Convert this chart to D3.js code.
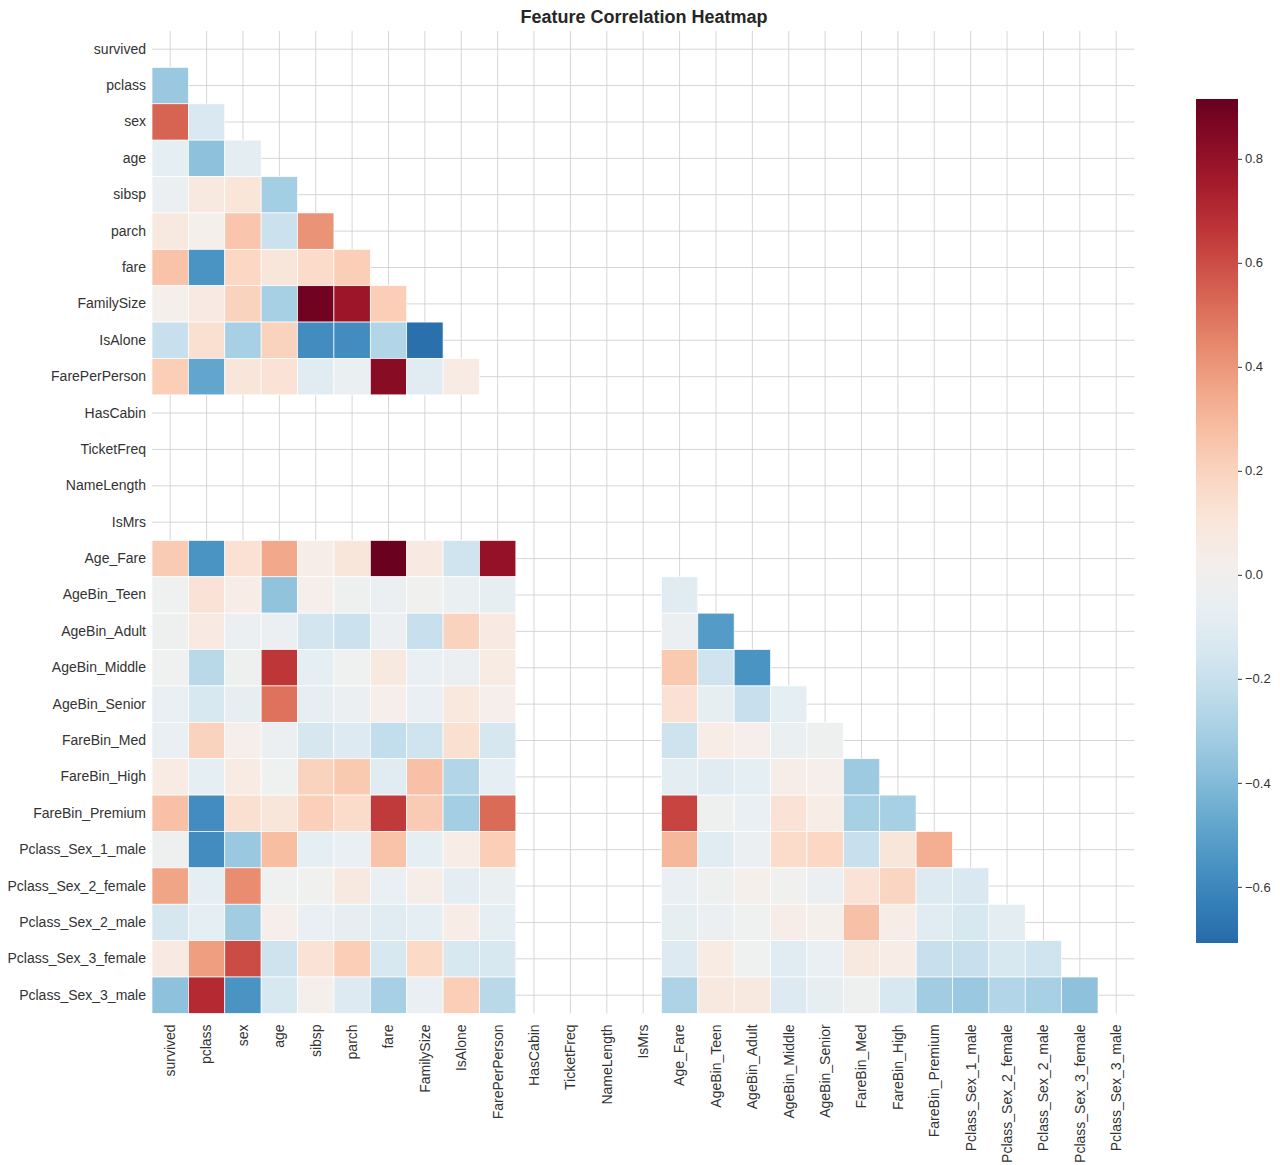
<!DOCTYPE html><html><head><meta charset="utf-8"><script src="https://cdn.jsdelivr.net/npm/d3@7"></script>
<style>body{margin:0;background:#fff}text{font-family:"Liberation Sans",Arial,sans-serif}</style></head><body>
<svg id="c" width="1280" height="1165"></svg>
<script>
const labels=["survived","pclass","sex","age","sibsp","parch","fare","FamilySize","IsAlone","FarePerPerson","HasCabin","TicketFreq","NameLength","IsMrs","Age_Fare","AgeBin_Teen","AgeBin_Adult","AgeBin_Middle","AgeBin_Senior","FareBin_Med","FareBin_High","FareBin_Premium","Pclass_Sex_1_male","Pclass_Sex_2_female","Pclass_Sex_2_male","Pclass_Sex_3_female","Pclass_Sex_3_male"];
const N=null;
const rows=[
[],
[-0.34],
[0.54,-0.13],
[-0.08,-0.37,-0.09],
[-0.04,0.08,0.11,-0.31],
[0.08,0.02,0.25,-0.19,0.41],
[0.26,-0.55,0.18,0.10,0.16,0.22],
[0.02,0.07,0.20,-0.30,0.89,0.78,0.22],
[-0.20,0.14,-0.30,0.20,-0.58,-0.58,-0.27,-0.69],
[0.22,-0.48,0.10,0.12,-0.10,-0.05,0.83,-0.10,0.06],
[],[],[],[],
[0.23,-0.55,0.13,0.35,0.04,0.10,0.91,0.07,-0.17,0.80,N,N,N,N],
[-0.02,0.12,0.05,-0.36,0.03,-0.03,-0.04,-0.01,-0.05,-0.07,N,N,N,N,-0.10],
[-0.03,0.07,-0.04,-0.04,-0.16,-0.19,-0.04,-0.20,0.20,0.07,N,N,N,N,-0.04,-0.52],
[-0.02,-0.25,-0.03,0.66,-0.08,-0.02,0.08,-0.06,-0.04,0.06,N,N,N,N,0.24,-0.17,-0.55],
[-0.06,-0.14,-0.07,0.50,-0.07,-0.04,0.03,-0.06,0.09,0.03,N,N,N,N,0.13,-0.07,-0.20,-0.08],
[-0.06,0.20,0.03,-0.04,-0.15,-0.12,-0.22,-0.17,0.14,-0.15,N,N,N,N,-0.18,0.05,0.03,-0.05,-0.03],
[0.06,-0.08,0.06,-0.02,0.20,0.24,-0.10,0.27,-0.27,-0.08,N,N,N,N,-0.09,-0.10,-0.08,0.04,0.03,-0.33],
[0.27,-0.58,0.14,0.10,0.21,0.16,0.65,0.23,-0.31,0.52,N,N,N,N,0.62,-0.03,-0.06,0.12,0.05,-0.30,-0.30],
[-0.03,-0.58,-0.34,0.28,-0.08,-0.06,0.26,-0.08,0.05,0.22,N,N,N,N,0.30,-0.10,-0.04,0.16,0.18,-0.20,0.10,0.33],
[0.36,-0.08,0.43,-0.02,-0.01,0.08,-0.06,0.04,-0.09,-0.05,N,N,N,N,-0.06,-0.03,0.02,-0.01,-0.04,0.12,0.19,-0.12,-0.13],
[-0.15,-0.08,-0.32,0.03,-0.06,-0.07,-0.10,-0.08,0.05,-0.08,N,N,N,N,-0.07,-0.04,-0.02,0.04,0.02,0.27,0.05,-0.10,-0.14,-0.09],
[0.07,0.38,0.60,-0.18,0.12,0.22,-0.14,0.17,-0.14,-0.14,N,N,N,N,-0.12,0.06,-0.02,-0.10,-0.06,0.08,0.05,-0.20,-0.20,-0.14,-0.17],
[-0.37,0.70,-0.55,-0.14,0.02,-0.12,-0.30,-0.06,0.22,-0.25,N,N,N,N,-0.28,0.08,0.08,-0.12,-0.07,-0.03,-0.14,-0.32,-0.34,-0.27,-0.30,-0.37]
];
const cbTicks=[0.8,0.6,0.4,0.2,0.0,-0.2,-0.4,-0.6];
const vmin=-0.708,vmax=0.915;

const svg=d3.select("#c");
const L=152,T=31,S=982.4;
const x=d3.scaleBand().domain(labels).range([L,L+S]);
const y=d3.scaleBand().domain(labels).range([T,T+S]);
const col=d3.scaleSequential(t=>d3.interpolateRdBu(1-t)).domain([-vmax,vmax]);
const g=svg.append("g");
labels.forEach(l=>{
 g.append("line").attr("x1",x(l)+x.bandwidth()/2).attr("x2",x(l)+x.bandwidth()/2).attr("y1",T).attr("y2",T+S).attr("stroke","#cccccc").attr("stroke-width",0.8);
 g.append("line").attr("y1",y(l)+y.bandwidth()/2).attr("y2",y(l)+y.bandwidth()/2).attr("x1",L).attr("x2",L+S).attr("stroke","#cccccc").attr("stroke-width",0.8);
});
const cells=[];
rows.forEach((r,i)=>r.forEach((v,j)=>{if(v!==null&&j<i)cells.push({i,j,v});}));
svg.append("g").selectAll("rect").data(cells).join("rect")
 .attr("x",d=>x(labels[d.j])).attr("y",d=>y(labels[d.i])).attr("width",x.bandwidth()).attr("height",y.bandwidth())
 .attr("fill",d=>col(d.v)).attr("stroke","#fff").attr("stroke-width",0.7);
const ya=svg.append("g").attr("transform",`translate(${L},0)`).call(d3.axisLeft(y).tickSize(0).tickPadding(6));
ya.select(".domain").remove();
ya.selectAll("text").attr("font-size",14).attr("fill","#333").style("font-family","Liberation Sans, Arial, sans-serif");
const xa=svg.append("g").attr("transform",`translate(0,${T+S})`).call(d3.axisBottom(x).tickSize(0).tickPadding(6));
xa.select(".domain").remove();
xa.selectAll("text").attr("font-size",14).attr("fill","#333").style("font-family","Liberation Sans, Arial, sans-serif")
 .attr("transform","rotate(-90)").attr("text-anchor","end").attr("dx","-0.5em").attr("dy","0.35em").attr("y",0).attr("x",-4);
svg.append("text").attr("x",644).attr("y",23).attr("text-anchor","middle").attr("font-size",18).attr("font-weight","bold").attr("fill","#262626").text("Feature Correlation Heatmap");
const cbx=1196,cbw=42,cbt=99,cbb=943;
const defs=svg.append("defs");
const lg=defs.append("linearGradient").attr("id","cb").attr("x1",0).attr("x2",0).attr("y1",1).attr("y2",0);
d3.range(0,1.0001,0.05).forEach(t=>lg.append("stop").attr("offset",t).attr("stop-color",col(vmin+t*(vmax-vmin))));
svg.append("rect").attr("x",cbx).attr("y",cbt).attr("width",cbw).attr("height",cbb-cbt).attr("fill","url(#cb)");
const cy=d3.scaleLinear().domain([vmin,vmax]).range([cbb,cbt]);
const ca=svg.append("g").attr("transform",`translate(${cbx+cbw},0)`).call(d3.axisRight(cy).tickValues(cbTicks).tickSize(4).tickFormat(d=>d<0?"\u2212"+Math.abs(d).toFixed(1):d.toFixed(1)));
ca.select(".domain").remove();
ca.selectAll("line").attr("stroke","#333");
ca.selectAll("text").attr("font-size",13).attr("fill","#333").style("font-family","Liberation Sans, Arial, sans-serif");
</script></body></html>
